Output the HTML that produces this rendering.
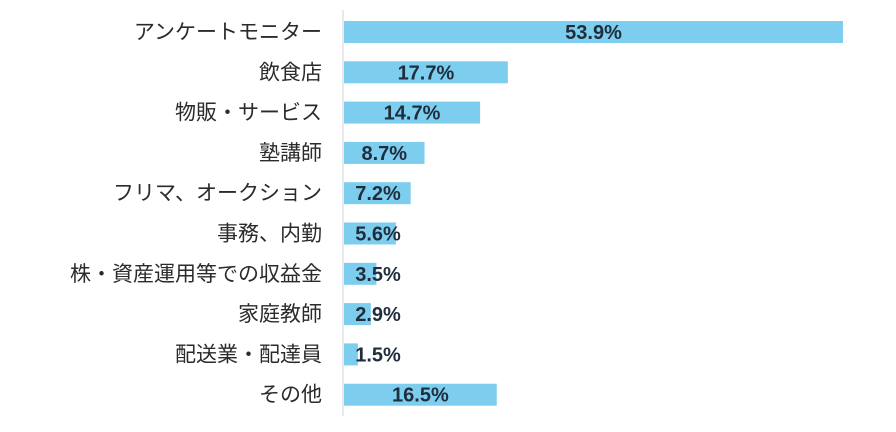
<!DOCTYPE html>
<html><head><meta charset="utf-8"><style>
body{margin:0;background:#fff;width:896px;height:427px;overflow:hidden}
text{font-family:"Liberation Sans","Noto Sans CJK JP",sans-serif}
</style></head><body>
<svg id="chart" width="896" height="427" xmlns="http://www.w3.org/2000/svg">
<line x1="343" y1="10" x2="343" y2="416" stroke="#dde3ea" stroke-width="1.5"/>
<g id="bars"></g>
</svg>
<script>
const categories=["アンケートモニター","飲食店","物販・サービス","塾講師","フリマ、オークション","事務、内勤","株・資産運用等での収益金","家庭教師","配送業・配達員","その他"];
const values=[53.9,17.7,14.7,8.7,7.2,5.6,3.5,2.9,1.5,16.5];
const valueLabels=["53.9%","17.7%","14.7%","8.7%","7.2%","5.6%","3.5%","2.9%","1.5%","16.5%"];
const x0=344, pxPer=499/53.9, yTop=21, step=40.3, barH=22;
const xs=v=>x0+v*pxPer;
const g=document.getElementById('bars');
const NS="http://www.w3.org/2000/svg";
categories.forEach((c,i)=>{
  const cy=yTop+step*i+barH/2;
  const r=document.createElementNS(NS,'rect');
  
  
  r.setAttribute('x',x0);r.setAttribute('y',cy-barH/2);
  r.setAttribute('width',xs(values[i])-x0);r.setAttribute('height',barH);
  r.setAttribute('fill','#7ccdee');
  g.appendChild(r);
  const t=document.createElementNS(NS,'text');
  
  
  t.setAttribute('x',322);t.setAttribute('y',cy+7);
  t.setAttribute('text-anchor','end');t.setAttribute('font-size','21');t.setAttribute('fill','#2b2b2b');
  t.textContent=c;g.appendChild(t);
  const v=document.createElementNS(NS,'text');
  
  
  v.setAttribute('x',Math.max((x0+xs(values[i]))/2,378));v.setAttribute('y',cy+7);
  v.setAttribute('text-anchor','middle');v.setAttribute('font-size','20');v.setAttribute('font-weight','bold');v.setAttribute('fill','#1f2d3d');
  v.textContent=valueLabels[i];g.appendChild(v);
});
</script>
</body></html>
